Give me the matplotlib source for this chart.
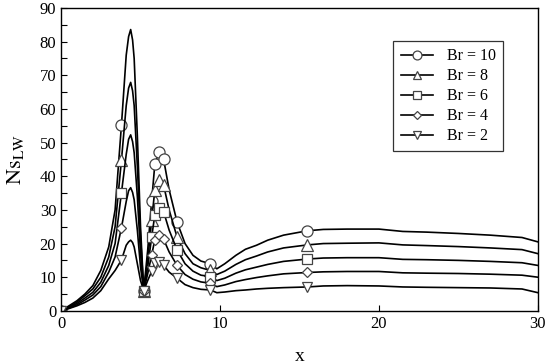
import matplotlib
matplotlib.use("Agg")
import matplotlib.pyplot as plt
from matplotlib.ticker import MultipleLocator

plt.rcParams['font.family'] = ['Liberation Serif', 'DejaVu Serif']
plt.rcParams['mathtext.fontset'] = 'stix'

x = [0, 0.5, 1.0, 1.5, 2.0, 2.5, 3.0, 3.4, 3.8, 4.1, 4.25, 4.38, 4.5, 4.6, 4.8, 5.0,
     5.2, 5.45, 5.7, 5.9, 6.15, 6.45, 6.8, 7.3, 7.8, 8.3, 8.8, 9.4, 9.8, 10.3, 11.0,
     11.6, 12.3, 13.0, 14.0, 15.5, 16.5, 18.0, 20.0, 21.5, 23.0, 25.0, 27.0, 29.0, 30.0]

br10 = [0, 1.5, 3.0, 5.0, 7.5, 12, 19, 30, 55.2, 76, 81.5, 83.6, 80.5, 75, 52, 25,
        6, 18, 32.6, 43.6, 47.2, 45.1, 36, 26.4, 20, 16.5, 14.8, 14, 12.5, 14, 16.5,
        18.3, 19.5, 21, 22.5, 23.8, 24.2, 24.3, 24.3, 23.6, 23.4, 23.0, 22.5, 21.8, 20.5]
br8 = [0, 1.2, 2.6, 4.5, 6.5, 10, 16, 25, 44.8, 61, 66.2, 67.9, 65.4, 61, 43, 22,
       6, 15, 27, 35.9, 38.9, 37.4, 30, 21.9, 17, 14, 12.8, 12, 10.8, 11.8, 13.8,
       15.2, 16.3, 17.5, 18.7, 19.6, 20, 20.1, 20.2, 19.6, 19.4, 19.1, 18.7, 18.2, 17]
br6 = [0, 1.0, 2.2, 3.8, 5.5, 8.5, 13.5, 20, 35.1, 46.5, 51, 52.3, 50.3, 47, 34, 17,
       6, 13, 21.9, 28.5, 30.7, 29.5, 24, 18.1, 14, 11.8, 10.6, 10.2, 9, 9.7, 11.2,
       12.2, 13, 13.8, 14.7, 15.4, 15.7, 15.8, 15.8, 15.3, 15.2, 15.0, 14.7, 14.3, 13.5]
br4 = [0, 0.8, 1.8, 3.2, 4.7, 7.2, 11.5, 16, 24.7, 32.5, 35.7, 36.6, 35.2, 33, 24, 13,
       6, 11, 16.6, 21.1, 22.6, 21.3, 17.5, 13.5, 10.8, 9.4, 8.6, 8.2, 7.2, 7.7, 8.7,
       9.3, 9.9, 10.4, 11, 11.4, 11.6, 11.7, 11.7, 11.3, 11.2, 11.1, 10.9, 10.6, 10]
br2 = [0, 0.7, 1.5, 2.5, 3.8, 6, 9.5, 12, 15.1, 19.5, 20.5, 21, 20.3, 19, 14, 9,
       6, 9, 11.7, 14.2, 14.6, 13.6, 11.5, 9.7, 7.8, 6.9, 6.4, 6.2, 5.4, 5.6, 6.0,
       6.2, 6.5, 6.7, 6.9, 7.1, 7.4, 7.5, 7.4, 7.1, 7.0, 6.9, 6.8, 6.5, 5.4]

series = [br10, br8, br6, br4, br2]
labels = ['Br = 10', 'Br = 8', 'Br = 6', 'Br = 4', 'Br = 2']
markers = ['o', '^', 's', 'D', 'v']
msizes = [8, 8, 7.5, 5.5, 7.5]
mark_idx = [0, 8, 16, 18, 19, 20, 21, 23, 27, 35]

fig = plt.figure(figsize=(5.5, 3.64), dpi=100)
ax = fig.add_axes([0.111, 0.146, 0.867, 0.832])

for y, lab, m, ms in zip(series, labels, markers, msizes):
    ax.plot(x, y, color='black', lw=1.2, marker=m, markersize=ms,
            markerfacecolor='white', markeredgecolor='#444444', markeredgewidth=0.9,
            markevery=mark_idx, label=lab)

ax.set_xlim(0, 30)
ax.set_ylim(0, 90)
ax.xaxis.set_major_locator(MultipleLocator(10))
ax.yaxis.set_major_locator(MultipleLocator(10))
ax.yaxis.set_minor_locator(MultipleLocator(5))
ax.tick_params(which='both', direction='in', top=False, right=False,
               labelsize=12, length=4, width=0.8)
ax.tick_params(which='minor', length=4)
for s in ax.spines.values():
    s.set_linewidth(1.0)

ax.set_xlabel('x', fontsize=14, labelpad=12)
ax.set_ylabel(r'$\mathrm{Ns}_{\mathrm{LW}}$', fontsize=16, labelpad=10)

leg = ax.legend(loc='upper right', bbox_to_anchor=(0.927, 0.891), borderaxespad=0,
                fontsize=11.5, markerscale=0.8,
                frameon=True, fancybox=False, edgecolor='black', handlelength=2.0,
                borderpad=0.45, labelspacing=0.25, handletextpad=0.9)
leg.get_frame().set_linewidth(0.9)

fig.savefig('out.png', dpi=100)
